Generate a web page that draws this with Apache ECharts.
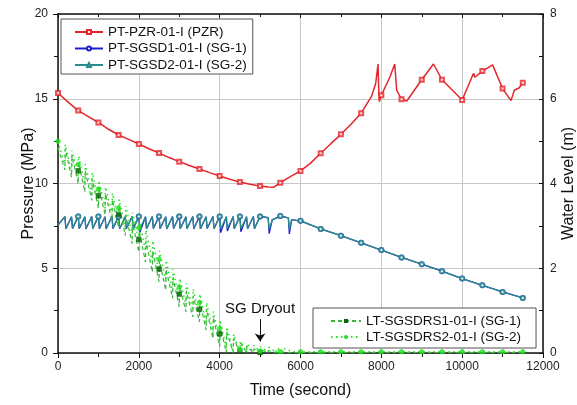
<!DOCTYPE html>
<html>
<head>
<meta charset="utf-8">
<script src="https://cdn.jsdelivr.net/npm/echarts@6/dist/echarts.min.js"></script>
<style>
html,body{margin:0;padding:0;background:#fff;}
#c{width:577px;height:405px;}
</style>
</head>
<body>
<div id="c"></div>
<script>
// ---------------- DATA ----------------
// Pressurizer pressure (MPa)
const pzrLine = [[0,15.34],[250,14.8],[500,14.3],[750,13.95],[1000,13.6],[1250,13.2],[1500,12.86],[1750,12.6],[2000,12.33],[2250,12.05],[2500,11.8],[2750,11.53],[3000,11.29],[3250,11.06],[3500,10.86],[3750,10.64],[4000,10.44],[4250,10.25],[4500,10.09],[4750,9.95],[5000,9.85],[5200,9.8],[5340,9.78],[5500,10.05],[5750,10.4],[6000,10.74],[6250,11.2],[6500,11.78],[6750,12.35],[7000,12.9],[7250,13.5],[7500,14.15],[7753,15.12],[7860,15.9],[7918,17.05],[7935,15.6],[7950,14.83],[8000,15.2],[8215,16.3],[8331,17.05],[8381,15.5],[8500,14.97],[8629,14.87],[9000,16.12],[9290,17.05],[9500,16.12],[10000,14.93],[10282,16.5],[10315,16.27],[10500,16.63],[10753,17.0],[11000,15.6],[11208,14.89],[11290,15.5],[11414,15.65],[11500,15.95]];

// SG-2 pressure (MPa)
const sg2Line = [[0,7.55],[170,8.05],[195,7.35],[335,8.04],[360,7.36],[500,8.06],[525,7.35],[665,8.03],[690,7.34],[835,8.05],[860,7.36],[1000,8.06],[1025,7.35],[1165,8.04],[1190,7.34],[1335,8.05],[1360,7.36],[1500,8.06],[1525,7.35],[1665,8.03],[1690,7.35],[1835,8.05],[1860,7.34],[2000,8.06],[2025,7.33],[2165,8.04],[2190,7.35],[2335,8.05],[2360,7.36],[2500,8.06],[2525,7.35],[2665,8.04],[2690,7.34],[2835,8.05],[2860,7.36],[3000,8.06],[3025,7.35],[3165,8.03],[3190,7.35],[3335,8.05],[3360,7.34],[3500,8.06],[3525,7.35],[3665,8.04],[3690,7.36],[3835,8.05],[3860,7.35],[4000,8.06],[4025,7.33],[4165,8.04],[4190,7.34],[4335,8.05],[4360,7.35],[4500,8.06],[4525,7.34],[4665,8.04],[4690,7.35],[4835,8.05],[4860,7.35],[5000,8.06],[5200,7.98],[5225,7.3],[5300,7.85],[5500,8.08],[5700,7.97],[5725,7.25],[5780,7.85],[6000,7.8],[6500,7.32],[7000,6.92],[7500,6.5],[8000,6.07],[8500,5.64],[9000,5.24],[9500,4.83],[10000,4.39],[10500,3.99],[11000,3.6],[11500,3.25]];

// SG-1 pressure (MPa)
const sg1Line = [[0,7.55],[170,8.05],[195,7.33],[335,8.04],[360,7.34],[500,8.06],[525,7.33],[665,8.03],[690,7.32],[835,8.05],[860,7.34],[1000,8.06],[1025,7.33],[1165,8.04],[1190,7.32],[1335,8.05],[1360,7.34],[1500,8.06],[1525,7.33],[1665,8.03],[1690,7.33],[1835,8.05],[1860,7.32],[2000,8.06],[2025,7.12],[2165,8.04],[2190,7.33],[2335,8.05],[2360,7.34],[2500,8.06],[2525,7.33],[2665,8.04],[2690,7.32],[2835,8.05],[2860,7.34],[3000,8.06],[3025,7.33],[3165,8.03],[3190,7.33],[3335,8.05],[3360,7.32],[3500,8.06],[3525,7.33],[3665,8.04],[3690,7.34],[3835,8.05],[3860,7.33],[4000,8.06],[4025,7.1],[4165,8.04],[4190,7.2],[4335,8.05],[4360,7.33],[4500,8.06],[4525,7.15],[4665,8.04],[4690,7.33],[4835,8.05],[4860,7.33],[5000,8.06],[5200,7.98],[5225,7.05],[5300,7.85],[5500,8.08],[5700,7.97],[5725,7.02],[5780,7.85],[6000,7.8],[6500,7.32],[7000,6.92],[7500,6.5],[8000,6.07],[8500,5.64],[9000,5.24],[9500,4.83],[10000,4.39],[10500,3.99],[11000,3.6],[11500,3.25]];

// SG water level oscillation strips (m): time, low and high of each strip
const greenTimes = [170,335,500,665,835,1000,1165,1335,1500,1665,1835,2000,2165,2335,2500,2665,2835,3000,3165,3335,3500,3665,3835,4000,4165,4335,4500,4665,4835,5000,5200,5400,5600];
const lightLow  = [4.42,4.28,4.15,3.96,3.76,3.57,3.42,3.27,3.12,2.97,2.81,2.65,2.4,2.15,1.91,1.69,1.47,1.26,1.14,1.01,0.89,0.69,0.48,0.28,0.11,0.02,0.02,0.02,0.02,0.02,0.02,0.02,0.02];
const lightHigh = [4.92,4.78,4.65,4.46,4.26,4.07,3.92,3.77,3.62,3.47,3.31,3.15,2.9,2.65,2.41,2.19,1.97,1.76,1.64,1.51,1.39,1.19,0.98,0.78,0.61,0.45,0.28,0.22,0.18,0.15,0.14,0.12,0.1];
const darkLow   = [4.32,4.15,4.0,3.8,3.6,3.41,3.26,3.12,2.97,2.77,2.58,2.38,2.15,1.91,1.68,1.48,1.29,1.09,0.97,0.85,0.73,0.54,0.34,0.15,0.01,0.01,0.01,0.01,0.01,0.01,0.01,0.01,0.01];
const darkHigh  = [4.82,4.65,4.5,4.3,4.1,3.91,3.76,3.62,3.47,3.27,3.08,2.88,2.65,2.41,2.18,1.98,1.79,1.59,1.47,1.35,1.23,1.04,0.84,0.65,0.5,0.35,0.25,0.15,0.1,0.08,0.06,0.05,0.04];
const lightStart = [0,5.0], lightEnd = [[5800,0.03],[11500,0.03]];
const darkStart  = [0,4.85], darkEnd  = [[5800,0.01],[11500,0.01]];

// Water level markers (m)
const lightMarks = [[0,5.0],[500,4.45],[1000,3.87],[1500,3.42],[2000,2.95],[2500,2.21],[3000,1.56],[3500,1.19],[4000,0.58],[4500,0.08],[5000,0.05],[5500,0.03],[6000,0.03],[6500,0.03],[7000,0.03],[7500,0.03],[8000,0.03],[8500,0.03],[9000,0.03],[9500,0.03],[10000,0.03],[10500,0.03],[11000,0.03],[11500,0.03]];
const darkMarks  = [[500,4.30],[1000,3.71],[1500,3.27],[2000,2.68],[2500,1.98],[3000,1.39],[3500,1.03],[4000,0.45],[4500,0.05],[5000,0.01]];

const names = ['PT-PZR-01-I (PZR)','PT-SGSD1-01-I (SG-1)','PT-SGSD2-01-I (SG-2)','LT-SGSDRS1-01-I (SG-1)','LT-SGSDRS2-01-I (SG-2)'];
const dryout = {label:'SG Dryout', time:5000, from:0.8, to:0.27};

// ---------------- BUILD ----------------
function strips(start, times, low, high, end){
  const out=[start];
  for(let i=0;i<times.length;i++){ out.push([times[i],low[i]]); out.push([times[i]+10,high[i]]); }
  return out.concat(end);
}
const lightLine = strips(lightStart, greenTimes, lightLow, lightHigh, lightEnd);
const darkLine  = strips(darkStart, greenTimes, darkLow, darkHigh, darkEnd);
const every500 = arr => arr.filter(p => p[0] % 500 === 0);
const pzrMarks = every500(pzrLine);
const sg1Marks = every500(sg1Line).filter(p=>p[0]>0);
const sg2Marks = every500(sg2Line).filter(p=>p[0]>0);

const FONT = "'Liberation Sans', Arial, sans-serif";
const C = {pzr:'#e3262b', sg1:'#1c1cc8', sg2:'#2a8c8c', lt1line:'#3cb43c', lt1mark:'#0d650d', lt2:'#1fe01f'};

function lineS(name, data, yi, color, width, symbol, extra){
  return Object.assign({type:'line', name, data, yAxisIndex:yi, showSymbol:false, symbol,
    lineStyle:{color, width}, itemStyle:{color}, emphasis:{disabled:true}, z:2}, extra||{});
}
function markS(name, data, yi, color, symbol, size, extra){
  return Object.assign({type:'scatter', name, data, yAxisIndex:yi, symbol, symbolSize:size,
    itemStyle:{color, borderColor:color, borderWidth:0.8}, emphasis:{disabled:true}, z:3}, extra||{});
}

const plainNum = v => String(v);
const axisCommon = {
  axisLine:{show:true, onZero:false, lineStyle:{color:'#111', width:1.5}},
  axisLabel:{color:'#222', fontSize:12, fontFamily:FONT, formatter:plainNum},
  nameTextStyle:{color:'#111', fontSize:16, fontFamily:FONT},
  nameMoveOverlap:false,
};

const option = {
  animation:false,
  backgroundColor:'#fff',
  grid:{left:58, right:34, top:14, bottom:52, containLabel:false, outerBoundsMode:'none'},
  xAxis:[
    Object.assign({}, axisCommon, {type:'value', min:0, max:12000, interval:2000, position:'bottom',
      name:'Time (second)', nameLocation:'middle', nameGap:30,
      axisTick:{show:true, length:5, lineStyle:{color:'#111'}},
      minorTick:{show:true, splitNumber:2, length:4, lineStyle:{color:'#111'}},
      axisLabel:Object.assign({}, axisCommon.axisLabel, {margin:8}),
      splitLine:{show:true, lineStyle:{color:'#c8c8c8', width:1}}}),
    Object.assign({}, axisCommon, {type:'value', min:0, max:12000, interval:2000, position:'top',
      axisTick:{show:true, inside:true, length:4, lineStyle:{color:'#111'}},
      minorTick:{show:true, splitNumber:2, length:3, lineStyle:{color:'#111'}},
      axisLabel:{show:false}, splitLine:{show:false}})
  ],
  yAxis:[
    Object.assign({}, axisCommon, {type:'value', min:0, max:20, interval:5, position:'left',
      name:'Pressure (MPa)', nameLocation:'middle', nameGap:21, nameRotate:90,
      axisTick:{show:true, length:5, lineStyle:{color:'#111'}},
      minorTick:{show:true, splitNumber:2, length:4, lineStyle:{color:'#111'}},
      axisLabel:Object.assign({}, axisCommon.axisLabel, {margin:10}),
      splitLine:{show:true, lineStyle:{color:'#c8c8c8', width:1}}}),
    Object.assign({}, axisCommon, {type:'value', min:0, max:8, interval:2, position:'right',
      name:'Water Level (m)', nameLocation:'middle', nameGap:18, nameRotate:90,
      axisTick:{show:true, inside:true, length:4, lineStyle:{color:'#111'}},
      minorTick:{show:true, splitNumber:2, length:4, lineStyle:{color:'#111'}},
      axisLabel:Object.assign({}, axisCommon.axisLabel, {margin:7}),
      splitLine:{show:false}})
  ],
  legend:[
    {data:names.slice(0,3), orient:'vertical', left:61, top:19, itemWidth:28, itemHeight:5, itemGap:2.5,
     padding:[6,6,2,13], backgroundColor:'#fff', borderColor:'#555', borderWidth:1,
     textStyle:{fontSize:13.5, fontFamily:FONT, color:'#111'}, selectedMode:false},
    {data:names.slice(3), orient:'vertical', left:313, top:308, itemWidth:30, itemHeight:5, itemGap:2,
     padding:[6,15,4,17], backgroundColor:'#fff', borderColor:'#555', borderWidth:1,
     textStyle:{fontSize:13.5, fontFamily:FONT, color:'#111'}, selectedMode:false}
  ],
  series:[
    lineS(names[0], pzrLine, 0, C.pzr, 1.5, 'emptyRect'),
    lineS(names[1], sg1Line, 0, C.sg1, 1.3, 'emptyCircle'),
    lineS(names[2], sg2Line, 0, C.sg2, 1.3, 'emptyTriangle'),
    lineS(names[3], darkLine, 1, C.lt1line, 1.2, 'rect', {lineStyle:{color:C.lt1line, width:1.2, type:[4,3]}, itemStyle:{color:C.lt1mark}}),
    lineS(names[4], lightLine, 1, C.lt2, 1.5, 'circle', {lineStyle:{color:C.lt2, width:1.5, type:[1.5,3.5]}, itemStyle:{color:C.lt2},
      markLine:{silent:true, symbol:['none','arrow'], symbolSize:8, animation:false,
        lineStyle:{color:'#111', width:1, type:'solid'},
        label:{show:true, position:'start', formatter:dryout.label, fontSize:15, fontFamily:FONT, color:'#111', distance:3},
        data:[[{coord:[dryout.time, dryout.from]},{coord:[dryout.time, dryout.to]}]]}}),
    markS('m_pzr', pzrMarks, 0, C.pzr, 'emptyRect', 4),
    markS('m_sg1', sg1Marks, 0, C.sg1, 'emptyCircle', 4),
    markS('m_sg2', sg2Marks, 0, C.sg2, 'emptyCircle', 4),
    markS('m_lt1', darkMarks, 1, C.lt1mark, 'rect', 4.5),
    markS('m_lt2', lightMarks, 1, C.lt2, 'circle', 4.5)
  ]
};
const chart = echarts.init(document.getElementById('c'), null, {renderer:'canvas'});
chart.setOption(option);
</script>
</body>
</html>
